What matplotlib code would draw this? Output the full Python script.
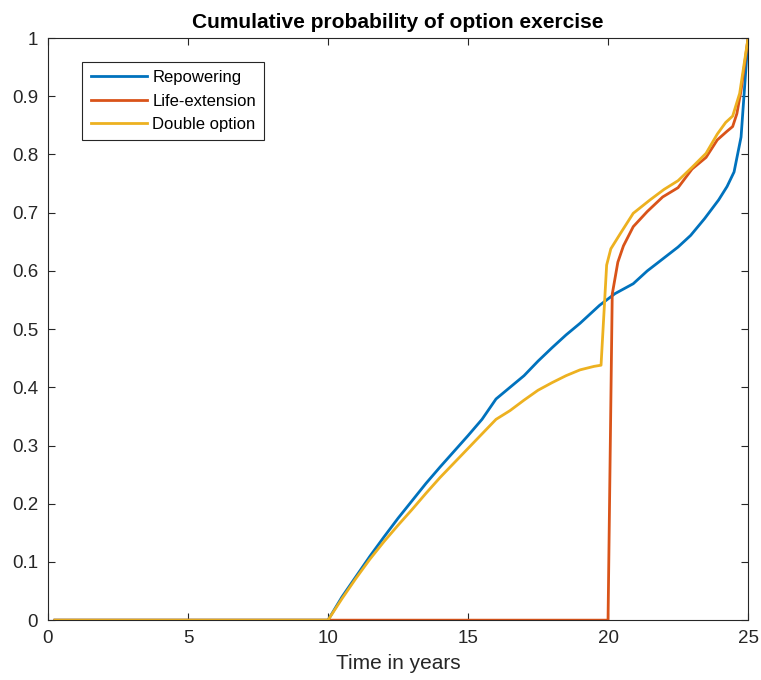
import numpy as np
import matplotlib.pyplot as plt

plt.rcParams['font.family'] = ['Liberation Sans', 'DejaVu Sans']

# Cumulative exercise probability by year; zero until the options open
t_rep = [0.25, 10.0, 10.5, 11.0, 11.5, 12.0, 12.5, 13.0, 13.5, 14.0, 14.5, 15.0,
         15.5, 16.0, 16.5, 17.0, 17.5, 18.0, 18.5, 19.0, 19.7, 20.25, 20.9, 21.4,
         21.75, 22.5, 22.95, 23.45, 23.95, 24.25, 24.5, 24.75, 25.0]
repowering = [0.0, 0.0, 0.04, 0.075, 0.11, 0.143, 0.175, 0.205, 0.235, 0.263, 0.29, 0.317,
              0.345, 0.38, 0.4, 0.42, 0.445, 0.468, 0.49, 0.51, 0.541, 0.561, 0.578, 0.6,
              0.613, 0.641, 0.661, 0.69, 0.722, 0.745, 0.77, 0.83, 1.0]

t_life = [0.25, 20.0, 20.15, 20.35, 20.55, 20.9, 21.4, 21.95, 22.5, 23.0, 23.5, 23.9,
          24.25, 24.45, 24.6, 24.75, 25.0]
life_extension = [0.0, 0.0, 0.56, 0.615, 0.643, 0.676, 0.702, 0.727, 0.743, 0.775, 0.795,
                  0.825, 0.84, 0.848, 0.87, 0.91, 1.0]

t_dbl = [0.25, 10.0, 10.5, 11.0, 11.5, 12.0, 12.5, 13.0, 13.5, 14.0, 14.5, 15.0,
         15.5, 16.0, 16.5, 17.0, 17.5, 18.0, 18.5, 19.0, 19.5, 19.75, 19.95, 20.1,
         20.45, 20.9, 21.5, 22.0, 22.5, 23.0, 23.5, 23.9, 24.2, 24.45, 24.7, 25.0]
double_option = [0.0, 0.0, 0.037, 0.072, 0.105, 0.135, 0.163, 0.19, 0.218, 0.245, 0.27, 0.295,
                 0.32, 0.345, 0.36, 0.378, 0.395, 0.408, 0.42, 0.43, 0.436, 0.438, 0.61, 0.638,
                 0.665, 0.699, 0.722, 0.74, 0.755, 0.778, 0.802, 0.835, 0.855, 0.866, 0.905, 1.0]

fig = plt.figure(figsize=(7.61, 6.8), dpi=100)
ax = fig.add_axes([0.063, 0.088, 0.920, 0.856])

ax.plot(t_rep, repowering, color='#0072BD', lw=2, label='Repowering')
ax.plot(t_life, life_extension, color='#D95319', lw=2, label='Life-extension')
ax.plot(t_dbl, double_option, color='#EDB120', lw=2, label='Double option')

ax.set_xlim(0, 25)
ax.set_ylim(0, 1)
ax.set_xticks([0, 5, 10, 15, 20, 25])
ax.set_yticks(np.arange(0, 1.01, 0.1))
ax.set_yticklabels(['0', '0.1', '0.2', '0.3', '0.4', '0.5', '0.6', '0.7', '0.8', '0.9', '1'])
ax.tick_params(direction='in', top=True, right=True, length=5, width=0.8,
               colors='#262626', labelsize=13.5)
ax.tick_params(axis='x', pad=7)
ax.tick_params(axis='y', pad=7)
for s in ax.spines.values():
    s.set_color('#262626')
    s.set_linewidth(0.8)

ax.set_xlabel('Time in years', fontsize=15, color='#262626', labelpad=5)
ax.set_title('Cumulative probability of option exercise', fontsize=15,
             fontweight='bold', pad=7)

leg = ax.legend(loc='upper left', bbox_to_anchor=(0.049, 0.959), borderaxespad=0,
                fontsize=12, fancybox=False, edgecolor='#262626', framealpha=1,
                handlelength=3.4, handletextpad=0.3, labelspacing=0.5,
                borderpad=0.5)
leg.get_frame().set_linewidth(0.8)

fig.savefig('out.png', dpi=100)
